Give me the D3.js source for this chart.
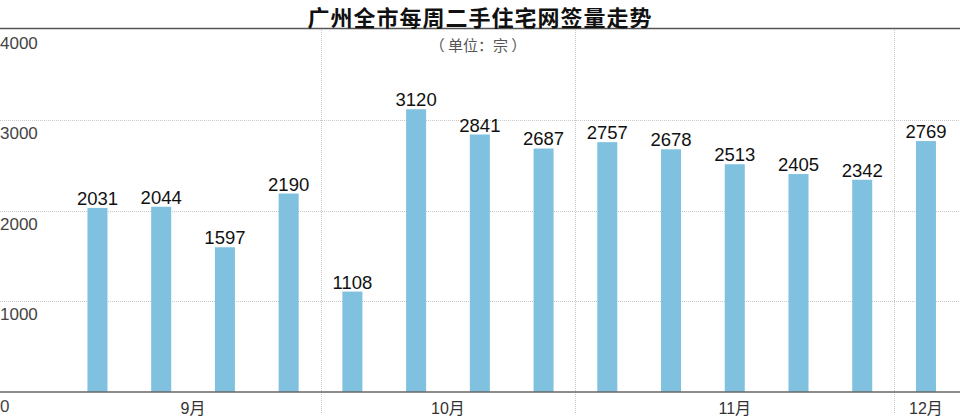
<!DOCTYPE html>
<html><head><meta charset="utf-8">
<script src="https://cdn.jsdelivr.net/npm/d3@7/dist/d3.min.js"></script>
<style>body{margin:0;background:#fff}svg{display:block}</style>
</head><body>
<script>
const weeks = ["9-1","9-2","9-3","9-4","10-1","10-2","10-3","10-4","11-1","11-2","11-3","11-4","11-5","12-1"];
const values = [2031,2044,1597,2190,1108,3120,2841,2687,2757,2678,2513,2405,2342,2769];
const months = ["9月","10月","11月","12月"];
const monthCounts = [4,4,5,1];
const yTicks = [0,1000,2000,3000,4000];
const title = "广州全市每周二手住宅网签量走势";
const unitText = "（ 单位：宗 ）";

const W = 960, H = 417;
const svg = d3.select("body").append("svg").attr("width", W).attr("height", H);

const y = d3.scaleLinear().domain([0,4000]).range([392,29.5]);
const x = d3.scaleBand().domain(weeks).range([65.6, 65.6 + 14*63.73]).paddingInner(0.686).paddingOuter(0.343);

// gridlines
svg.append("g").selectAll("line").data(yTicks.filter(d => d > 0 && d < 4000)).join("line")
  .attr("x1", 0).attr("x2", W).attr("y1", d => Math.round(y(d)) + 0.5).attr("y2", d => Math.round(y(d)) + 0.5)
  .attr("stroke", "#c8c8c8").attr("stroke-width", 1).attr("stroke-dasharray", "1,1");

// month separators
let idx = 0;
const seps = [];
const monthCenters = [];
monthCounts.forEach((c, i) => {
  const first = weeks[idx], last = weeks[idx + c - 1];
  monthCenters.push((x(first) + x(last) + x.bandwidth()) / 2);
  idx += c;
  if (i < monthCounts.length - 1) {
    seps.push((x(last) + x.bandwidth() + x(weeks[idx])) / 2);
  }
});
svg.append("g").selectAll("line").data(seps).join("line")
  .attr("x1", d => Math.round(d) + 0.5).attr("x2", d => Math.round(d) + 0.5)
  .attr("y1", 30).attr("y2", 414)
  .attr("stroke", "#c8c8c8").attr("stroke-width", 1).attr("stroke-dasharray", "1,1");

// bars
svg.append("g").selectAll("rect").data(values).join("rect")
  .attr("x", (d, i) => x(weeks[i])).attr("width", x.bandwidth())
  .attr("y", d => y(d)).attr("height", d => y(0) - y(d))
  .attr("fill", "#7fc1de");

// value labels
svg.append("g").selectAll("text").data(values).join("text")
  .attr("x", (d, i) => x(weeks[i]) + x.bandwidth() / 2)
  .attr("y", d => y(d) - 3)
  .attr("text-anchor", "middle")
  .attr("font-family", "Liberation Sans, Arial, sans-serif")
  .attr("font-size", 18.5).attr("fill", "#111")
  .text(d => d);

// y tick labels (below gridlines)
svg.append("g").selectAll("text").data(yTicks).join("text")
  .attr("x", 0)
  .attr("y", d => d === 0 ? y(d) + 20 : y(d) + 19)
  .attr("font-family", "Liberation Sans, Arial, sans-serif")
  .attr("font-size", 17).attr("fill", "#444")
  .text(d => d);

// top line and axis
svg.append("line").attr("x1", 0).attr("x2", W).attr("y1", 28.5).attr("y2", 28.5)
  .attr("stroke", "#555").attr("stroke-width", 1.5);
svg.append("line").attr("x1", 0).attr("x2", W).attr("y1", y(0)).attr("y2", y(0))
  .attr("stroke", "#666").attr("stroke-width", 1.5);

// month labels
svg.append("g").selectAll("text").data(months).join("text")
  .attr("x", (d, i) => monthCenters[i]).attr("y", 414)
  .attr("text-anchor", "middle")
  .attr("font-family", "Liberation Sans, 'Noto Sans CJK SC', sans-serif")
  .attr("font-size", 16).attr("fill", "#333")
  .text(d => d);

// title
svg.append("text").attr("x", 480).attr("y", 25.5).attr("text-anchor", "middle")
  .attr("font-family", "'Noto Sans CJK SC', sans-serif").attr("font-weight", "bold")
  .attr("font-size", 22).attr("letter-spacing", 1).attr("fill", "#111").text(title);

// unit
svg.append("text").attr("x", 478).attr("y", 51).attr("text-anchor", "middle")
  .attr("font-family", "'Noto Sans CJK SC', sans-serif")
  .attr("font-size", 15).attr("fill", "#555").text(unitText);
</script>
</body></html>
